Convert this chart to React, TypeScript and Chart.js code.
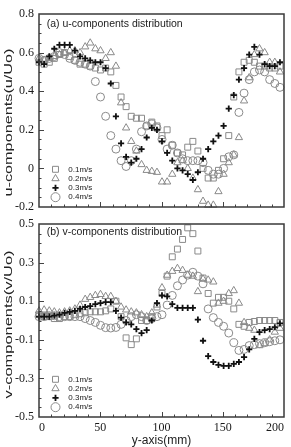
import { useEffect, useRef } from 'react';
import { Chart, registerables } from 'chart.js';

Chart.register(...registerables);

// Measurement stations across the channel (mm)
const positionsMm = [
  0, 4.2, 8.4, 12.5, 16.7, 20.9, 25.1, 29.3, 33.5, 37.7, 41.8, 46.0,
  50.2, 54.4, 58.6, 62.8, 67.0, 71.1, 75.3, 79.5, 83.7, 87.9, 92.1, 96.3,
  100.4, 104.6, 108.8, 113.0, 117.2, 121.4, 125.6, 129.7, 133.9, 138.1, 142.3, 146.5,
  150.7, 154.9, 159.0, 163.2, 167.4, 171.6, 175.8, 180.0, 184.2, 188.3, 192.5, 196.7,
];

// u/Uo for each inlet speed
const uSpeed01 = [
  0.55, 0.54, 0.55, 0.57, 0.59, 0.60, 0.58, 0.56, 0.54, 0.54, 0.53, 0.52,
  0.51, 0.52, 0.50, 0.43, 0.37, 0.32, 0.27, 0.26, 0.26, 0.22, 0.24, 0.22,
  0.17, 0.20, 0.12, 0.08, 0.07, 0.11, 0.14, 0.09, 0.00, -0.05, -0.05, -0.01,
  0.05, 0.17, 0.37, 0.50, 0.55, 0.56, 0.55, 0.53, 0.53, 0.52, 0.52, 0.53,
];
const uSpeed02 = [
  0.57, 0.56, 0.57, 0.58, 0.59, 0.60, 0.61, 0.61, 0.60, 0.63, 0.65, 0.62,
  0.61, 0.57, 0.60, 0.53, 0.34, 0.21, 0.14, 0.09, 0.02, -0.01, -0.015, -0.02,
  -0.07, -0.07, -0.03, 0.03, 0.04, 0.00, -0.05, -0.11, -0.17, -0.19, -0.19, -0.12,
  -0.03, 0.03, 0.07, 0.16, 0.35, 0.47, 0.59, 0.62, 0.60, 0.55, 0.55, 0.50,
];
const uSpeed03 = [
  0.55, 0.54, 0.58, 0.62, 0.64, 0.64, 0.64, 0.61, 0.58, 0.57, 0.56, 0.55,
  0.55, 0.52, 0.44, 0.27, 0.13, 0.06, 0.03, 0.05, 0.10, 0.16, 0.21, 0.20,
  0.14, 0.08, 0.04, 0.00, -0.01, -0.03, -0.06, -0.02, 0.05, 0.10, 0.14, 0.17,
  0.22, 0.31, 0.38, 0.46, 0.52, 0.59, 0.63, 0.59, 0.54, 0.53, 0.53, 0.55,
];
const uSpeed04 = [
  0.57, 0.56, 0.57, 0.58, 0.60, 0.59, 0.57, 0.56, 0.55, 0.54, 0.53, 0.45,
  0.37, 0.27, 0.17, 0.10, 0.04, 0.01, 0.04, 0.10, 0.19, 0.22, 0.23, 0.21,
  0.15, 0.10, 0.12, 0.08, 0.05, 0.04, 0.04, 0.04, 0.03, -0.01, -0.03, -0.03,
  0.00, 0.06, 0.07, 0.29, 0.39, 0.46, 0.50, 0.51, 0.50, 0.46, 0.44, 0.42,
];

// v/Uo for each inlet speed
const vSpeed01 = [
  0.03, 0.02, 0.02, 0.01, 0.01, 0.02, 0.02, 0.03, 0.035, 0.04, 0.045, 0.045,
  0.045, 0.05, 0.06, 0.10, 0.02, -0.09, -0.125, -0.095, 0.00, 0.00, 0.02, 0.07,
  0.14, 0.23, 0.33, 0.37, 0.42, 0.48, 0.45, 0.36, 0.22, 0.14, 0.09, 0.12,
  0.12, 0.10, 0.06, -0.02, -0.03, -0.01, -0.005, 0.00, 0.00, 0.00, 0.00, -0.01,
];
const vSpeed02 = [
  0.05, 0.055, 0.05, 0.045, 0.04, 0.045, 0.05, 0.06, 0.08, 0.11, 0.12, 0.13,
  0.135, 0.125, 0.125, 0.10, 0.07, 0.055, 0.045, 0.04, 0.03, 0.02, 0.04, 0.08,
  0.17, 0.235, 0.255, 0.27, 0.26, 0.235, 0.23, 0.15, 0.215, 0.21, 0.20, 0.09,
  0.10, 0.14, 0.155, 0.09, -0.01, -0.04, -0.05, -0.13, -0.12, -0.10, -0.06, -0.04,
];
const vSpeed03 = [
  0.02, 0.02, 0.02, 0.025, 0.03, 0.04, 0.045, 0.05, 0.06, 0.07, 0.075, 0.085,
  0.09, 0.095, 0.095, 0.05, 0.015, -0.01, -0.02, -0.045, -0.065, -0.05, 0.00, 0.09,
  0.13, 0.125, 0.085, 0.065, 0.065, 0.065, 0.065, 0.005, -0.105, -0.185, -0.215, -0.23,
  -0.235, -0.235, -0.225, -0.215, -0.19, -0.15, -0.095, -0.06, -0.05, -0.045, -0.035, -0.015,
];
const vSpeed04 = [
  0.02, 0.02, 0.025, 0.025, 0.02, 0.02, 0.02, 0.02, 0.02, 0.01, 0.0, -0.01,
  -0.025, -0.037, -0.039, -0.036, -0.02, 0.0, 0.02, 0.03, 0.02, 0.0, 0.01, 0.02,
  0.03, 0.08, 0.13, 0.18, 0.21, 0.235, 0.25, 0.23, 0.19, 0.06, 0.015, -0.01,
  -0.03, -0.065, -0.115, -0.155, -0.15, -0.13, -0.125, -0.12, -0.115, -0.11, -0.105, -0.10,
];

const speedLabels = ['0.1m/s', '0.2m/s', '0.3m/s', '0.4m/s'];
const uTickValues = [-0.2, 0, 0.2, 0.4, 0.6, 0.8];
const vTickValues = [-0.5, -0.3, -0.1, 0.1, 0.3, 0.5];
const xTickValues = [0, 50, 100, 150, 200];

const SANS = '"Liberation Sans", Arial, Helvetica, sans-serif';
const SERIF = '"Liberation Serif", "Times New Roman", serif';
const GRAY = '#8a8a8a';
const INK = '#1a1a1a';

type Marker = { pointStyle: string; radius: number; color: string; borderWidth: number };
const markerStyles: Marker[] = [
  { pointStyle: 'rect', radius: 4.2, color: GRAY, borderWidth: 1 },
  { pointStyle: 'triangle', radius: 4.2, color: GRAY, borderWidth: 1 },
  { pointStyle: 'cross', radius: 3.1, color: '#111', borderWidth: 1.8 },
  { pointStyle: 'circle', radius: 4, color: GRAY, borderWidth: 1 },
];

function traceMarker(ctx: CanvasRenderingContext2D, m: Marker, x: number, y: number) {
  const r = m.radius;
  ctx.beginPath();
  if (m.pointStyle === 'rect') {
    const s = r * Math.SQRT1_2;
    ctx.rect(x - s, y - s, 2 * s, 2 * s);
  } else if (m.pointStyle === 'triangle') {
    ctx.moveTo(x, y - r);
    ctx.lineTo(x + r * Math.sin((2 * Math.PI) / 3), y - r * Math.cos((2 * Math.PI) / 3));
    ctx.lineTo(x + r * Math.sin((4 * Math.PI) / 3), y - r * Math.cos((4 * Math.PI) / 3));
    ctx.closePath();
  } else if (m.pointStyle === 'cross') {
    ctx.moveTo(x, y - r);
    ctx.lineTo(x, y + r);
    ctx.moveTo(x - r, y);
    ctx.lineTo(x + r, y);
  } else {
    ctx.arc(x, y, r + 0.5, 0, Math.PI * 2);
  }
  ctx.strokeStyle = m.color;
  ctx.lineWidth = m.borderWidth;
  ctx.stroke();
}

// Frame, inward ticks, panel caption, legend and stretched y title
const decorPlugin = {
  id: 'panelDecor',
  afterDatasetsDraw(chart: any, _args: any, opts: any) {
    const { ctx, chartArea: a } = chart;
    const xs = chart.scales.x;
    const ys = chart.scales.y;
    ctx.save();

    ctx.strokeStyle = '#444';
    ctx.lineWidth = 1;
    ctx.beginPath();
    for (let v = 10; v < 200; v += 10) {
      const px = Math.round(xs.getPixelForValue(v)) + 0.5;
      const len = v % 50 === 0 ? 5 : 2.5;
      ctx.moveTo(px, a.bottom);
      ctx.lineTo(px, a.bottom - len);
    }
    const ticks: number[] = opts.yTicks;
    const step = 0.05;
    const count = Math.round((ys.max - ys.min) / step);
    for (let k = 1; k < count; k++) {
      const v = ys.min + k * step;
      const py = Math.round(ys.getPixelForValue(v)) + 0.5;
      const major = ticks.some((t) => Math.abs(t - v) < 1e-6);
      ctx.moveTo(a.left, py);
      ctx.lineTo(a.left + (major ? 5 : 2.5), py);
    }
    ctx.stroke();

    ctx.strokeStyle = '#3a3a3a';
    ctx.lineWidth = 1.5;
    ctx.strokeRect(a.left, a.top, a.right - a.left, a.bottom - a.top);

    ctx.fillStyle = '#222';
    ctx.font = `10.5px ${SANS}`;
    ctx.textAlign = 'left';
    ctx.textBaseline = 'middle';
    ctx.fillText(opts.caption, a.left + 7.7, a.top + opts.captionDy);

    ctx.font = `8px ${SANS}`;
    speedLabels.forEach((label: string, i: number) => {
      const y = a.bottom - 37.7 + i * 9.3;
      traceMarker(ctx, markerStyles[i], a.left + 16.5, y);
      ctx.fillStyle = '#222';
      ctx.fillText(label, a.left + 29.3, y);
    });

    ctx.translate(8.5, (a.top + a.bottom) / 2 + opts.yTitleShift);
    ctx.rotate(-Math.PI / 2);
    ctx.font = `11.5px ${SANS}`;
    const w = ctx.measureText(opts.yTitle).width;
    ctx.scale(opts.yTitleLength / w, 1);
    ctx.textAlign = 'center';
    ctx.fillStyle = '#222';
    ctx.fillText(opts.yTitle, 0, 0);
    ctx.restore();
  },
};

type PanelSpec = {
  caption: string;
  captionDy: number;
  yTitle: string;
  yTitleShift: number;
  series: number[][];
  yTicks: number[];
  fmt: (v: number) => string;
  padTop: number;
  xAxisHeight: number;
  showX: boolean;
};

function buildConfig(p: PanelSpec): any {
  return {
    type: 'scatter',
    data: {
      datasets: p.series.map((vals, i) => ({
        label: speedLabels[i],
        data: positionsMm.map((x, j) => ({ x, y: vals[j] })),
        pointStyle: markerStyles[i].pointStyle,
        pointRadius: markerStyles[i].radius,
        pointBorderWidth: markerStyles[i].borderWidth,
        borderColor: markerStyles[i].color,
        backgroundColor: 'rgba(0,0,0,0)',
        showLine: false,
        clip: false,
        order: i === 2 ? 0 : i + 1,
      })),
    },
    options: {
      responsive: false,
      animation: false,
      devicePixelRatio: 1,
      events: [],
      layout: { padding: { top: p.padTop, right: 7, left: 0, bottom: 0 } },
      plugins: {
        legend: { display: false },
        tooltip: { enabled: false },
        panelDecor: {
          caption: p.caption,
          captionDy: p.captionDy,
          yTitle: p.yTitle,
          yTitleShift: p.yTitleShift,
          yTitleLength: 148,
          yTicks: p.yTicks,
        },
      },
      scales: {
        x: {
          type: 'linear',
          min: 0,
          max: 200,
          afterBuildTicks: (s: any) => {
            s.ticks = xTickValues.map((value) => ({ value }));
          },
          afterFit: (s: any) => {
            s.height = p.xAxisHeight;
            s.paddingLeft = 0;
            s.paddingRight = 0;
          },
          grid: { display: false, drawTicks: false },
          border: { display: false },
          ticks: {
            display: p.showX,
            align: 'inner',
            padding: 4,
            maxRotation: 0,
            color: INK,
            font: { family: SERIF, size: 12 },
            callback: (v: any) => String(v),
          },
          title: {
            display: p.showX,
            text: 'y-axis(mm)',
            color: '#222',
            padding: { top: 0, bottom: 0 },
            font: { family: SANS, size: 12, lineHeight: 1 },
          },
        },
        y: {
          type: 'linear',
          min: p.yTicks[0],
          max: p.yTicks[p.yTicks.length - 1],
          afterBuildTicks: (s: any) => {
            s.ticks = p.yTicks.map((value) => ({ value }));
          },
          afterFit: (s: any) => {
            s.width = 39;
            s.paddingTop = 0;
            s.paddingBottom = 0;
          },
          grid: { display: false, drawTicks: false },
          border: { display: false },
          ticks: {
            padding: 5,
            color: INK,
            font: { family: SERIF, size: 12 },
            callback: (v: any) => p.fmt(Number(v)),
          },
        },
      },
    },
    plugins: [decorPlugin],
  };
}

const topPanel: PanelSpec = {
  caption: '(a) u-components distribution',
  captionDy: 10,
  yTitle: 'u-components(u/Uo)',
  yTitleShift: 12,
  series: [uSpeed01, uSpeed02, uSpeed03, uSpeed04],
  yTicks: uTickValues,
  fmt: (v) => (Math.abs(v) < 1e-9 ? '0' : v.toFixed(1)),
  padTop: 14,
  xAxisHeight: 8,
  showX: false,
};

const bottomPanel: PanelSpec = {
  caption: '(b) v-components distribution',
  captionDy: 8.5,
  yTitle: 'v-components(v/Uo)',
  yTitleShift: 4,
  series: [vSpeed01, vSpeed02, vSpeed03, vSpeed04],
  yTicks: vTickValues,
  fmt: (v) => v.toFixed(1),
  padTop: 9,
  xAxisHeight: 30,
  showX: true,
};

export default function App() {
  const topRef = useRef<HTMLCanvasElement>(null);
  const bottomRef = useRef<HTMLCanvasElement>(null);

  useEffect(() => {
    const upper = new Chart(topRef.current as HTMLCanvasElement, buildConfig(topPanel));
    const lower = new Chart(bottomRef.current as HTMLCanvasElement, buildConfig(bottomPanel));
    return () => {
      upper.destroy();
      lower.destroy();
    };
  }, []);

  return (
    <div style={{ position: 'absolute', left: 0, top: 0, width: 291, height: 447, background: '#fff' }}>
      <canvas ref={topRef} width={291} height={215} style={{ display: 'block', width: 291, height: 215 }} />
      <canvas ref={bottomRef} width={291} height={232} style={{ display: 'block', width: 291, height: 232 }} />
    </div>
  );
}
